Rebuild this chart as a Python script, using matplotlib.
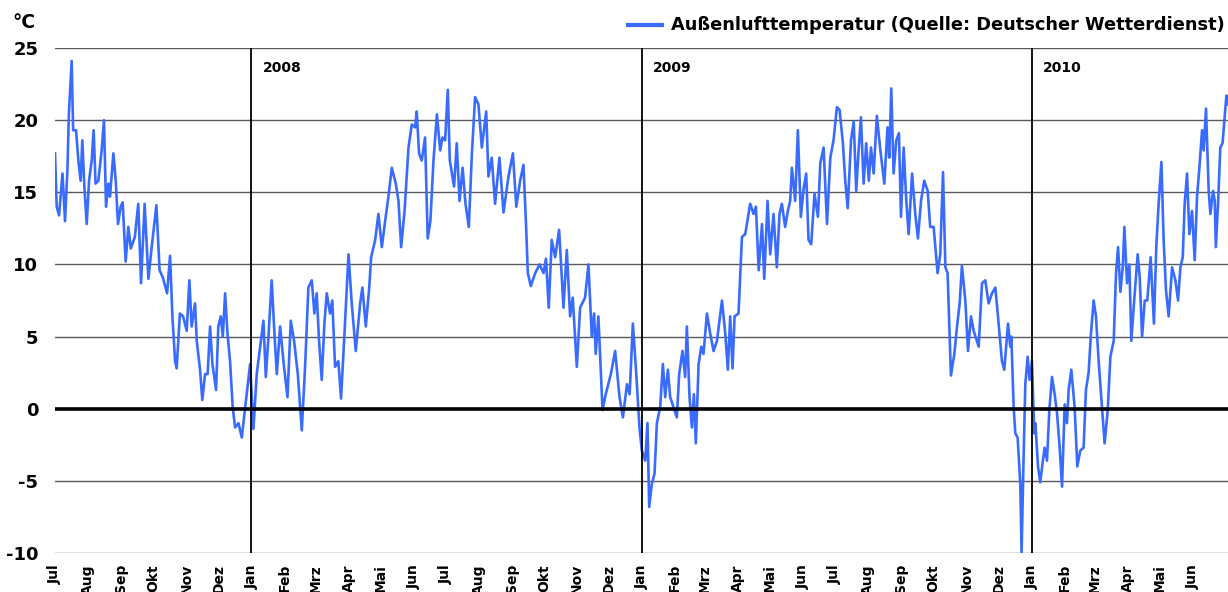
import matplotlib
matplotlib.use("Agg")
import matplotlib.pyplot as plt
import matplotlib.dates as mdates
from matplotlib.lines import Line2D
import pandas as pd
from datetime import datetime

plt.rcParams['font.family'] = ['DejaVu Sans']
plt.rcParams['font.weight'] = 'bold'

# ---- data: (days since 2007-07-01, temperature in degC) ----
seg_2007 = [(0,17.7),(1.6,14.0),(3.8,13.4),(7,16.3),(9.4,13.0),(11.6,16.5),(13,20.4),(15.6,24.1),
    (17,19.3),(19.7,19.3),(21.9,17.2),(24,15.8),(25.6,18.6),(27.5,15.4),(29.7,12.8),(31.9,15.8),
    (34.4,17.2),(36.2,19.3),(38,15.6),(40.6,15.8),(43.7,17.9),(45.9,20.0),(47.8,14.0),(50,15.6),
    (51.5,14.7),(54.7,17.7),(56.9,15.8),(59,12.8),(61.5,14.0),(63.4,14.3),(66.2,10.2),(68.7,12.6),
    (71,11.1),(74.8,11.9),(78,14.2),(80.6,8.7),(84,14.2),(87.5,9.0),(90.6,11.2),(95,14.1),(98,9.6),
    (101,9.1),(105,8.0),(107.8,10.6),(110,6.4),(112.5,3.3),(114,2.8),(117,6.6),(120,6.4),(123.4,5.4),
    (125.9,8.9),(128,5.7),(131.2,7.3),(132.8,4.7),(135.9,2.7),(138,0.6),(140.6,2.4),(143,2.4),
    (145.3,5.7),(147.5,3.1),(150.9,1.3),(153,5.7),(155.3,6.4),(157.2,5.0),(159.4,8.0),(161.6,5.2),
    (164,3.3),(166.5,0.1),(168.7,-1.3),(171.9,-1.0),(175,-2.0),(179.6,1.0)]
seg_2008a = [(182.8,3.1),(185.9,-1.4),(189,2.4),(192.2,4.3),(195.3,6.1),(197.5,2.2),(200,5.0),
    (203,8.9),(205.6,5.2),(207.8,2.4),(210.9,5.7),(214,3.3),(217.8,0.8),(220.9,6.1),(224,4.7),
    (227.5,2.4),(231.2,-1.5),(234.3,2.9),(237.4,8.4),(240.6,8.9),(243,6.6),(245.2,8.0),(247.4,4.7),
    (249.9,2.0),(252.4,5.9),(254.6,8.0),(257.7,6.6),(259.8,7.5),(262.4,2.9),(265.5,3.3),(268,0.7),
    (271.2,5.2),(275,10.7),(278,7.3),(281.8,4.0),(285.9,7.3),(288,8.4),(291.2,5.7),(294.3,8.3),
    (296.2,10.5),(300,11.7),(303,13.5),(306.2,11.2),(309.3,13.0),(312.4,14.7),(315.5,16.7),
    (319.3,15.6),(321.8,14.4),(324.3,11.2),(327.5,13.7),(331.2,18.1),(334.3,19.7),(337.4,19.5),
    (338.9,20.6),(341.1,17.7),(343.6,17.2),(346.7,18.8),(349.2,11.8),(351.7,13.0),(354.6,17.2),
    (357.8,20.4),(360.9,17.9),(363,18.8),(365.5,18.6),(368,22.1),(369.9,17.2)]
seg_2008b = [(373.9,15.4),(376.4,18.4),(379,14.4),(381.9,16.7),(384.6,14.2),(387.7,12.6),
    (390.6,17.7),(393.6,21.6),(396.7,21.1),(399.9,18.1),(404,20.6),(406.1,16.1),(409.2,17.4),
    (412.3,14.2),(416.4,17.4),(420.2,13.6),(424.9,16.1),(429,17.7),(432.2,14.0),(435.8,15.8),
    (438.9,16.9),(441.4,12.6),(443,9.4),(445.8,8.5),(449.9,9.4),(454,10.0),(457.7,9.4),(460,10.4),
    (462.6,7.0),(465.4,11.7),(468.6,10.5),(472.3,12.4),(476.4,7.0),(479.5,11.0),(482.6,6.4),
    (485.1,7.7),(488.9,2.9),(492,7.0),(496.6,7.7),(499.8,10.0),(502.9,5.0),(505.1,6.6),(506.6,3.8),
    (509.1,6.4),(513,-0.1),(516,1.0),(520.8,2.4),(524.8,4.0),(528.9,0.8),(532.1,-0.6),(535.9,1.7),
    (538.4,1.0),(541.4,5.9),(544.6,2.4),(547.6,-1.3),(549.8,-2.9)]
seg_2009a = [(553,-3.6),(555.1,-1.0),(556.7,-6.8),(559.2,-5.2),(561.7,-4.5),(563.9,-1.0),(567,0.1),
    (569.5,3.1),(571.7,0.8),(574.2,2.7),(576.4,0.8),(579.5,0.1),(582.6,-0.6),(584.8,2.4),(587.9,4.0),
    (590.4,2.2),(592,5.7),(594.5,0.8),(596.7,-1.3),(598.6,1.0),(600.4,-2.4),(603,3.1),(605.5,4.3),
    (607.6,3.8),(610.8,6.6),(613.9,5.2),(617,4.0),(620.2,4.7),(624.9,7.5),(628,5.2),(630.4,2.7),
    (632.6,6.4),(634.8,2.8),(636.7,6.4),(640.4,6.6),(643.6,11.9),(646.7,12.1),(651.3,14.2),
    (654.5,13.5),(656.7,14.0),(659.3,9.6),(662.4,12.8),(664.5,9.0),(667.6,14.4),(670.1,10.7),
    (673.2,13.5),(676.3,9.8),(678.8,13.5),(681,14.2),(684.1,12.6),(686.6,13.7),(688.8,14.4),
    (690.4,16.7),(693.5,14.4),(696,19.3),(698.8,13.3),(701.3,15.2),(703.8,16.3),(706,11.7),
    (708.5,11.4),(711.6,14.9),(714.8,13.3),(717,17.0),(720.1,18.1),(723.3,12.8),(726.4,17.4),
    (729.4,18.6),(732.6,20.9),(735.1,20.7)]
seg_2009b = [(738.2,18.4),(740.4,15.8),(742.7,13.9),(745.8,18.6),(748.3,19.9),(750.7,15.1),
    (752.9,17.9),(755.1,20.2),(757.6,15.6),(760,18.4),(762.5,15.8),(764.5,18.1),(767,16.3),
    (770,20.3),(773.3,17.9),(777,15.6),(780,19.5),(781.6,17.4),(783.5,22.2),(785.7,16.3),
    (788.2,18.6),(790.7,19.1),(792.6,13.3),(795.1,18.1),(797.6,14.4),(799.8,12.1),(803,16.3),
    (806,13.5),(808.5,11.8),(811.4,14.4),(814.4,15.8),(817.6,15.1),(820,12.6),(823.2,12.6),
    (826.9,9.4),(829.4,10.7),(832,16.4),(834.2,9.8),(836.3,9.4),(839.4,2.3),(842.6,3.8),(845.1,5.7),
    (847.6,7.3),(849.7,9.9),(852.9,7.5),(855.4,4.0),(858.2,6.4),(860.7,5.4),(865.4,4.3),(868.5,8.7),
    (871.6,8.9),(874.7,7.3),(877.9,8.0),(881,8.4),(884.1,5.9),(887.2,3.3),(889.4,2.7),(892.9,5.9),
    (895,4.3),(896,5.0),(898.2,0.1),(899.7,-1.7),(901.9,-2.0),(904.4,-5.2),(905.6,-10.0),
    (907.5,-3.3),(909.1,1.7),(911.3,3.6),(913.1,2.0),(915.3,3.3),(917.5,-1.7)]
seg_2010 = [(918.5,-1.0),(921,-4.0),(923.1,-5.1),(925.2,-3.8),(927.2,-2.7),(929.4,-3.6),(931.6,-0.1),
    (934.1,2.2),(936.6,1.0),(938.8,-0.3),(941.3,-2.7),(943.5,-5.4),(946,0.3),(948.1,-1.0),
    (949.7,1.3),(952.2,2.7),(955.3,0.1),(957.8,-4.0),(960.6,-2.9),(963.7,-2.7),(965.9,1.3),
    (968.4,2.5),(970.6,5.2),(973.1,7.5),(975.3,6.4),(977.8,3.3),(980.9,0.1),(983.4,-2.4),
    (986.3,-0.1),(988.8,3.6),(991.9,4.7),(994.1,9.4),(996,11.2),(998.2,8.1),(1000.4,9.8),
    (1001.9,12.6),(1004.4,8.7),(1006.6,10.0),(1008.4,4.7),(1011.3,7.7),(1014.4,10.7),(1016.3,9.1),
    (1018.5,5.0),(1021,7.5),(1023.4,7.5),(1026.5,10.5),(1029.6,5.9),(1031.8,11.2),(1034,14.2),
    (1036.6,17.1),(1038.7,11.7),(1040.9,8.2),(1043.4,6.4),(1046.6,9.8),(1049.7,8.9),(1052.2,7.5),
    (1054.4,9.8),(1056.6,10.5),(1058.4,14.2),(1060.6,16.3),(1062.8,12.1),(1065.3,13.7),
    (1067.8,10.3),(1070,14.7),(1072.2,16.7),(1074.7,19.3),(1076.2,17.9),(1078.4,20.8),
    (1080.9,15.1),(1082.5,13.5),(1085,15.1),(1086.6,14.4),(1087.6,11.2),(1089.8,14.4),
    (1091.8,18.1),(1093.9,18.4),(1095.9,20.2),(1097.5,21.7),(1099,21.1)]

start_date = datetime(2007, 7, 1)
end_date = datetime(2010, 7, 4)
month_names = ['Jan', 'Feb', 'Mrz', 'Apr', 'Mai', 'Jun', 'Jul', 'Aug', 'Sep', 'Okt', 'Nov', 'Dez']
year_lines = [2008, 2009, 2010]
y_ticks = [-10, -5, 0, 5, 10, 15, 20, 25]
legend_label = 'Außenlufttemperatur (Quelle: Deutscher Wetterdienst)'

pairs = seg_2007 + seg_2008a + seg_2008b + seg_2009a + seg_2009b + seg_2010
base = mdates.date2num(start_date)
xs = [base + d for d, _ in pairs]
ys = [v for _, v in pairs]

line_color = '#3a6bff'

fig = plt.figure(figsize=(12.28, 5.92), dpi=100)
ax = fig.add_axes([55/1228, 39/592, 1 - 55/1228, 505/592])

ax.plot(xs, ys, color=line_color, lw=1.9, zorder=3, solid_joinstyle='round')

ax.set_ylim(-10, 25)
ax.set_xlim(base, mdates.date2num(end_date))
ax.set_yticks(y_ticks)
ax.set_yticklabels([str(t) for t in y_ticks], fontsize=13, fontweight='bold')
for t in y_ticks:
    if t == 0:
        ax.axhline(0, color='black', lw=2.6, zorder=4)
    else:
        ax.axhline(t, color='#5a5a5a', lw=1, zorder=1)

for yr in year_lines:
    xd = mdates.date2num(datetime(yr, 1, 1))
    ax.axvline(xd, color='black', lw=1.3, zorder=5)
    ax.annotate(str(yr), xy=(xd, 0.961), xycoords=ax.get_xaxis_transform(),
                xytext=(8, 0), textcoords='offset points', ha='left', va='center',
                fontsize=10, fontweight='bold')

months = pd.date_range('2007-07-01', '2010-06-01', freq='MS')
ax.set_xticks([mdates.date2num(m.to_pydatetime()) for m in months])
ax.set_xticklabels([month_names[m.month - 1] for m in months], rotation=90,
                   fontsize=10, fontweight='bold', va='top', ha='center')

ax.tick_params(axis='x', length=0, pad=8)
ax.tick_params(axis='y', length=0, pad=12)
for s in ax.spines.values():
    s.set_visible(False)

fig.text(12/1228, 1 - 22/592, '°C', fontsize=13.5, fontweight='bold', ha='left', va='center')
fig.add_artist(Line2D([628/1228, 662/1228], [1 - 25/592, 1 - 25/592],
                      color=line_color, lw=3, transform=fig.transFigure))
fig.text(671/1228, 1 - 25/592, legend_label, fontsize=12.8, fontweight='bold',
         ha='left', va='center')

fig.savefig('out.png', dpi=100)
